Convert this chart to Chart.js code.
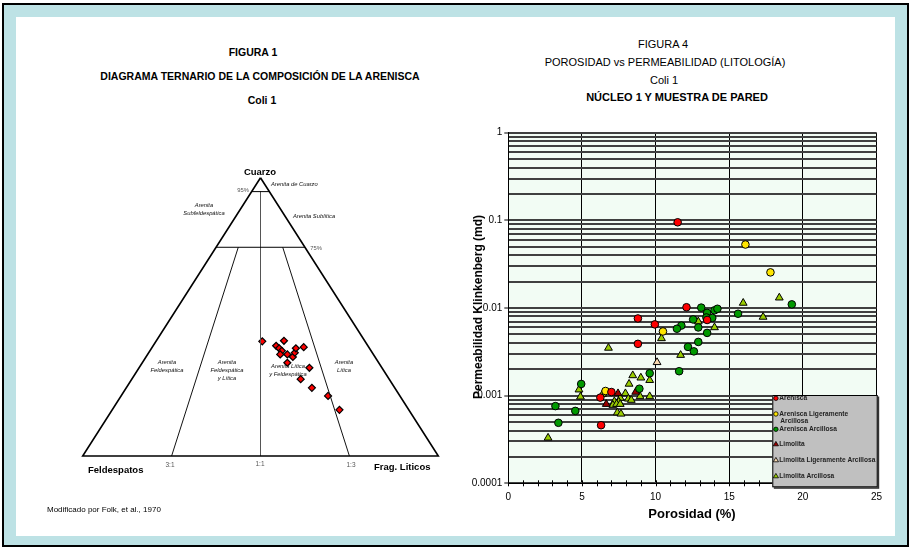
<!DOCTYPE html>
<html><head><meta charset="utf-8">
<script src="https://cdn.jsdelivr.net/npm/chart.js@4.4.1/dist/chart.umd.min.js"></script>
<style>
html,body{margin:0;padding:0;width:912px;height:548px;overflow:hidden;background:#fff;font-family:"Liberation Sans",Arial,sans-serif;}
#frame{position:absolute;left:2px;top:3px;width:903px;height:540px;border:2px solid #000;background:#bde2e5;}
#panel{position:absolute;left:16px;top:17px;width:879px;height:519px;background:#fff;}
.t{position:absolute;white-space:nowrap;transform:translate(-50%,-50%);color:#000;line-height:1;}
.l{position:absolute;white-space:nowrap;transform:translate(0,-50%);color:#000;line-height:1;}
.b{font-weight:bold;}
.i{font-style:italic;font-size:5.8px;color:#111;}
.r{font-size:6.5px;color:#555;}
canvas{position:absolute;}
</style></head>
<body>
<div id="frame"></div>
<div id="panel"></div>

<div class="t b" style="left:253px;top:52px;font-size:10.5px">FIGURA 1</div>
<div class="t b" style="left:260px;top:76px;font-size:10.5px">DIAGRAMA TERNARIO DE LA COMPOSICIÓN DE LA ARENISCA</div>
<div class="t b" style="left:262px;top:100px;font-size:10.5px">Coli 1</div>

<div class="t" style="left:663px;top:44px;font-size:11px">FIGURA 4</div>
<div class="t" style="left:665px;top:62px;font-size:11px">POROSIDAD vs PERMEABILIDAD (LITOLOGÍA)</div>
<div class="t" style="left:664px;top:80px;font-size:11px">Coli 1</div>
<div class="t b" style="left:677px;top:97px;font-size:11px">NÚCLEO 1 Y MUESTRA DE PARED</div>

<canvas id="tern" width="440" height="519" style="left:16px;top:17px;width:440px;height:519px"></canvas>
<canvas id="scat" width="460" height="440" style="left:440px;top:100px;width:460px;height:440px"></canvas>

<div class="t b" style="left:260px;top:172px;font-size:9.5px">Cuarzo</div>
<div class="l b" style="left:88px;top:470px;font-size:9.5px">Feldespatos</div>
<div class="l b" style="left:374px;top:467px;font-size:9.5px">Frag. Liticos</div>
<div class="t r" style="left:170px;top:465px">3:1</div>
<div class="t r" style="left:260px;top:464px">1:1</div>
<div class="t r" style="left:351px;top:465px">1:3</div>
<div class="t r" style="left:243px;top:191px;font-size:5.8px">95%</div>
<div class="t r" style="left:316px;top:249px;font-size:5.8px">75%</div>
<div class="l i" style="left:271px;top:185px">Arenita de Cuarzo</div>
<div class="t i" style="left:204px;top:206px">Arenita</div>
<div class="t i" style="left:204px;top:214px">Subfeldespática</div>
<div class="t i" style="left:314px;top:217px">Arenita Sublítica</div>
<div class="t i" style="left:167px;top:363px">Arenita</div>
<div class="t i" style="left:167px;top:371px">Feldespática</div>
<div class="t i" style="left:227px;top:363px">Arenita</div>
<div class="t i" style="left:227px;top:371px">Feldespática</div>
<div class="t i" style="left:227px;top:379px">y Lítica</div>
<div class="t i" style="left:288px;top:367px">Arenita Lítica</div>
<div class="t i" style="left:288px;top:375px">y Feldespática</div>
<div class="t i" style="left:344px;top:363px">Arenita</div>
<div class="t i" style="left:344px;top:371px">Lítica</div>
<div class="l" style="left:47px;top:510px;font-size:8px">Modificado por Folk, et al., 1970</div>

<div class="t b" style="left:478px;top:307px;font-size:12px;transform:translate(-50%,-50%) rotate(-90deg)">Permeabilidad Klinkenberg (md)</div>
<div class="t b" style="left:692px;top:513px;font-size:13px">Porosidad (%)</div>

<script>
// ---------- Ternary diagram data (Q = Cuarzo, F = Feldespatos, L = Frag. Líticos, %) ----------
const quartzPct   = [41.2, 41.4, 39.6, 38.7, 37.8, 36.5, 36.5, 35.6, 37.1, 38.7, 39.1, 33.5, 31.7, 27.6, 24.5, 21.6, 16.6];
const feldsparPct = [28.9, 22.7, 25.8, 25.4, 25.1, 26.2, 24.2, 23.1, 21.8, 20.7, 18.3, 25.7, 20.4, 24.9, 23.3, 20.2, 19.5];
const lithicPct   = [29.9, 35.9, 34.6, 35.9, 37.1, 37.3, 39.3, 41.3, 41.1, 40.6, 42.6, 40.8, 47.9, 47.5, 52.2, 58.2, 63.9];
const quartzLimits = [95, 75];           // horizontal class limits
const feldLithRatios = [[3, 1], [1, 1], [1, 3]]; // F:L ratio lines

// ---------- Porosity vs permeability data ----------
const seriesNames = ['Arenisca', 'Arenisca Ligeramente\nArcillosa', 'Arenisca Arcillosa', 'Limolita', 'Limolita Ligeramente Arcillosa', 'Limolita Arcillosa'];
const areniscaPor = [11.5, 12.1, 8.8, 9.95, 13.5, 8.8, 7.0, 6.25, 6.3];
const areniscaPerm = [0.095, 0.0102, 0.0076, 0.0065, 0.0073, 0.0039, 0.0011, 0.00095, 0.00046];
const arenLigPor = [16.1, 17.8, 10.5, 6.6];
const arenLigPerm = [0.053, 0.0255, 0.0054, 0.00113];
const arenArcPor = [13.1, 14.0, 14.2, 13.5, 12.55, 13.45, 13.85, 11.75, 11.45, 12.9, 13.5, 15.6, 19.25, 12.2, 12.9, 12.6, 11.6, 9.6, 8.9, 4.95, 3.2, 4.55, 3.4];
const arenArcPerm = [0.0101, 0.0094, 0.0098, 0.0088, 0.0074, 0.0078, 0.0077, 0.0063, 0.0058, 0.0060, 0.0052, 0.0086, 0.011, 0.0036, 0.0041, 0.0032, 0.0019, 0.0018, 0.0012, 0.00136, 0.00076, 0.00067, 0.00049];
const limolitaPor = [7.45, 8.65, 6.65];
const limolitaPerm = [0.00106, 0.0011, 0.0008];
const limoLigPor = [10.1];
const limoLigPerm = [0.0024];
const limoArcPor = [15.95, 18.4, 17.3, 14.0, 12.9, 10.4, 11.7, 6.8, 8.45, 9.0, 9.6, 8.2, 4.8, 4.9, 6.4, 7.95, 7.6, 7.2, 7.5, 8.15, 8.35, 8.95, 9.6, 7.1, 7.35, 7.6, 7.4, 7.65, 2.7];
const limoArcPerm = [0.0114, 0.0131, 0.0079, 0.006, 0.007, 0.0045, 0.0029, 0.0035, 0.0017, 0.0016, 0.0015, 0.00136, 0.00117, 0.00097, 0.00104, 0.00106, 0.00094, 0.00086, 0.00085, 0.00092, 0.00089, 0.00098, 0.00098, 0.00078, 0.0008, 0.0008, 0.00064, 0.00062, 0.00033];
const xTickValues = [0, 5, 10, 15, 20, 25];
const yTickValues = [0.0001, 0.001, 0.01, 0.1, 1];
const yTickLabels = ['0.0001', '0.001', '0.01', '0.1', '1'];

// ---------- Ternary chart ----------
function tern(q, f, l) { const s = q + f + l; return { x: (l + q / 2) / s, y: q / s }; }
const lineDs = (pts, w, c) => ({ data: pts, showLine: true, borderColor: c, borderWidth: w, pointRadius: 0, fill: false, clip: false, tension: 0 });
const tDatasets = [];
tDatasets.push(lineDs([tern(100,0,0), tern(0,100,0), tern(0,0,100), tern(100,0,0)], 1.6, '#000'));
quartzLimits.forEach(q => tDatasets.push(lineDs([tern(q, 100 - q, 0), tern(q, 0, 100 - q)], 1, '#000')));
feldLithRatios.forEach(([f, l]) => {
  const top = f === l ? quartzLimits[0] : quartzLimits[1];
  const rest = 100 - top;
  tDatasets.push(lineDs([tern(top, rest * f / (f + l), rest * l / (f + l)), tern(0, f, l)], 1, f === l ? '#555' : '#111'));
});
tDatasets.push({
  data: quartzPct.map((q, i) => tern(q, feldsparPct[i], lithicPct[i])),
  pointStyle: 'rectRot', pointRadius: 3.5, backgroundColor: '#ff0000', borderColor: '#000', borderWidth: 1.2, clip: false, showLine: false
});
new Chart(document.getElementById('tern'), {
  type: 'scatter',
  data: { datasets: tDatasets },
  options: {
    responsive: false, animation: false, devicePixelRatio: 1,
    layout: { padding: { left: 66.7, right: 17.7, top: 160.7, bottom: 80 } },
    plugins: { legend: { display: false }, tooltip: { enabled: false } },
    scales: { x: { type: 'linear', min: 0, max: 1, display: false }, y: { type: 'linear', min: 0, max: 1, display: false } }
  }
});

// ---------- Scatter chart ----------
const isDecade = v => Math.abs(Math.log10(v) - Math.round(Math.log10(v))) < 1e-9;
const yGrid = [];
for (let e = -4; e <= -1; e++) for (let m = 1; m <= 9; m++) yGrid.push(+(m * Math.pow(10, e)).toPrecision(3));
yGrid.push(1);
const xGrid = []; for (let v = 0; v <= 25; v++) xGrid.push(v);

const mk = (label, xs, ys, color, style, r) => ({
  label, data: xs.map((x, i) => ({ x, y: ys[i] })),
  backgroundColor: color, borderColor: '#000', borderWidth: 1, pointStyle: style, pointRadius: r, showLine: false
});
const sDatasets = [
  mk(seriesNames[0], areniscaPor, areniscaPerm, '#ff0000', 'circle', 3.8),
  mk(seriesNames[1], arenLigPor, arenLigPerm, '#ffe600', 'circle', 3.8),
  mk(seriesNames[2], arenArcPor, arenArcPerm, '#009900', 'circle', 3.8),
  mk(seriesNames[3], limolitaPor, limolitaPerm, '#990000', 'triangle', 4.5),
  mk(seriesNames[4], limoLigPor, limoLigPerm, '#f8d9b0', 'triangle', 4.5),
  mk(seriesNames[5], limoArcPor, limoArcPerm, '#99cc00', 'triangle', 4.5)
];

const bgPlugin = {
  id: 'bg',
  beforeDraw(chart) {
    const a = chart.chartArea, ctx = chart.ctx;
    ctx.save(); ctx.fillStyle = '#f2fcf4'; ctx.fillRect(a.left, a.top, a.right - a.left, a.bottom - a.top); ctx.restore();
  },
  beforeDatasetsDraw(chart) {
    const ctx = chart.ctx, xs = chart.scales.x, a = chart.chartArea;
    ctx.save(); ctx.strokeStyle = '#000'; ctx.lineWidth = 1;
    xGrid.forEach(v => {
      const px = Math.round(xs.getPixelForValue(v)) + 0.5;
      ctx.beginPath(); ctx.moveTo(px, a.bottom - 3); ctx.lineTo(px, a.bottom + 3); ctx.stroke();
    });
    ctx.restore();
  },
  afterDraw(chart) {
    const ctx = chart.ctx, a = chart.chartArea;
    const L = a.right - 104.2, T = a.bottom - 88.3, W = 105.4, H = 92.3;
    ctx.save();
    ctx.fillStyle = '#333'; ctx.fillRect(L + 1.5, T + 1.5, W, H);
    ctx.fillStyle = '#c0c0c0'; ctx.fillRect(L, T, W, H);
    ctx.strokeStyle = '#000'; ctx.lineWidth = 1; ctx.strokeRect(L + 0.5, T + 0.5, W - 1, H - 1);
    const offs = [3.3, 19, 34.3, 49, 65, 81];
    ctx.font = 'bold 6.6px "Liberation Sans", Arial, sans-serif';
    ctx.textBaseline = 'middle'; ctx.textAlign = 'left';
    chart.data.datasets.forEach((ds, i) => {
      const y = T + offs[i], x = L + 3.6;
      ctx.fillStyle = ds.backgroundColor; ctx.strokeStyle = '#000'; ctx.lineWidth = 0.8;
      ctx.beginPath();
      if (ds.pointStyle === 'circle') { ctx.arc(x, y, 2.2, 0, Math.PI * 2); }
      else { ctx.moveTo(x, y - 2.6); ctx.lineTo(x + 2.6, y + 1.8); ctx.lineTo(x - 2.6, y + 1.8); ctx.closePath(); }
      ctx.fill(); ctx.stroke();
      ctx.fillStyle = '#222';
      ds.label.split('\n').forEach((ln, k) => ctx.fillText(ln, L + 7 + (k ? 1 : 0), y + k * 7));
    });
    ctx.restore();
  }
};

new Chart(document.getElementById('scat'), {
  type: 'scatter',
  data: { datasets: sDatasets },
  plugins: [bgPlugin],
  options: {
    responsive: false, animation: false, devicePixelRatio: 1,
    layout: { padding: { left: 28.3, right: 23.5, top: 32.7, bottom: 36.7 } },
    plugins: { legend: { display: false }, tooltip: { enabled: false } },
    scales: {
      x: {
        type: 'linear', min: 0, max: 25,
        afterFit(s) { s.height = 20; },
        afterBuildTicks(s) { s.ticks = xTickValues.map(v => ({ value: v })); },
        ticks: { autoSkip: false, maxRotation: 0, padding: 8, color: '#000', font: { family: '"Liberation Sans", Arial', size: 10 }, callback: v => String(v) },
        grid: { drawTicks: false, color: '#000', lineWidth: 1 },
        border: { color: '#000', width: 1 }
      },
      y: {
        type: 'logarithmic', min: 0.0001, max: 1,
        afterFit(s) { s.width = 40; },
        afterBuildTicks(s) { s.ticks = yGrid.map(v => ({ value: v })); },
        ticks: {
          autoSkip: false, padding: 2, color: '#000', font: { family: '"Liberation Sans", Arial', size: 10 },
          callback: v => { if (!isDecade(v)) return ''; const k = yTickValues.findIndex(t => Math.abs(t - v) / t < 1e-6); return k >= 0 ? yTickLabels[k] : ''; }
        },
        grid: {
          color: '#404040', lineWidth: 2, tickLength: 4, tickWidth: 1,
          tickColor: c => (c.tick && isDecade(c.tick.value)) ? '#000' : 'rgba(0,0,0,0)'
        },
        border: { color: '#000', width: 1 }
      }
    }
  }
});
</script>
</body></html>
